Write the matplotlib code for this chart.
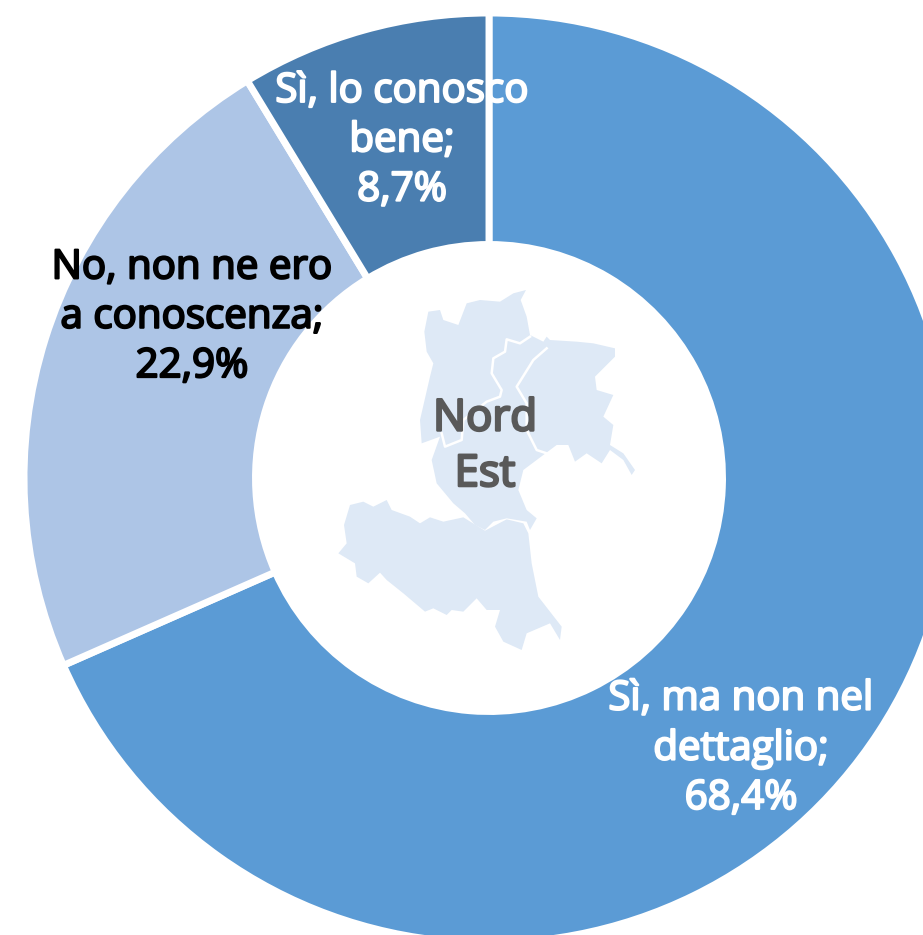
import matplotlib
matplotlib.use("Agg")
import matplotlib.pyplot as plt
from matplotlib.patches import Polygon
import matplotlib.patheffects as pe

labels = ["Sì, ma non nel\ndettaglio;\n68,4%", "No, non ne ero\na conoscenza;\n22,9%", "Sì, lo conosco\nbene;\n8,7%"]
values = [68.4, 22.9, 8.7]
colors = ["#5B9BD5", "#ADC5E6", "#4A7EB0"]
center_label = "Nord\nEst"
W, H = 923, 935
plt.rcParams['font.family'] = ['Open Sans', 'DejaVu Sans']

fig = plt.figure(figsize=(W/100, H/100), dpi=100)
ax = fig.add_axes([0, 0, 1, 1])
cx, cy, R = 489, 478, 465
inner = 233.5
wedges, _ = ax.pie(values, colors=colors, startangle=-90, counterclock=True,
                   center=(cx, cy), radius=R, frame=True,
                   wedgeprops=dict(width=R-inner, edgecolor='white', linewidth=5))
ax.set_xlim(0, W)
ax.set_ylim(H, 0)
ax.set_aspect('equal')
ax.axis('off')

# decorative map silhouette behind the centre label (traced on a 3x crop at 330,280)
north = [(295,95),(330,90),(340,120),(385,135),(410,70),(450,60),(510,65),(550,40),(588,30),(572,60),(590,110),(600,165),
         (640,185),(650,170),(660,180),(740,185),(790,190),(855,205),(855,230),(795,290),(800,330),(850,345),(820,410),
         (850,435),(840,495),(880,520),(915,570),(905,585),(880,540),(840,510),(815,550),(770,520),(735,545),(715,495),
         (680,495),(620,540),(580,570),(565,630),(590,690),(620,715),(600,750),(590,725),(530,715),(490,725),(465,750),
         (435,735),(405,700),(370,670),(320,610),(305,540),(330,470),(275,490),(270,420),(300,290),(310,250),(290,215),(283,155)]
south = [(60,675),(100,665),(130,680),(170,660),(185,690),(240,710),(270,730),(300,712),(340,725),(400,712),(465,752),
         (530,718),(580,730),(595,760),(605,850),(625,950),(695,1040),(690,1080),(660,1030),(590,1060),(575,1110),(520,1085),
         (495,1040),(510,990),(470,990),(440,955),(400,995),(365,990),(350,1005),(310,985),(285,995),(220,940),(170,900),
         (150,878),(115,910),(80,890),(75,850),(25,820),(50,790),(42,735)]
border_a = [(600,170),(570,190),(530,178),(525,215),(490,235),(485,280),(515,330),(510,350),(470,365),(400,420),(395,480),(345,500),(335,460)]
border_b = [(650,205),(610,240),(560,320),(590,370),(590,450),(620,510),(650,520)]
def tr(pts):
    return [(x/3+330, y/3+280) for x, y in pts]
for poly in (north, south):
    ax.add_patch(Polygon(tr(poly), closed=True, facecolor="#DEE9F6", edgecolor='none', zorder=3))
for b in (border_a, border_b):
    xs, ys = zip(*tr(b))
    ax.plot(xs, ys, color='white', lw=1.8, zorder=3)

fs = 29
ls = 1.29
def heavy(c, w=1.5):
    return [pe.withStroke(linewidth=w, foreground=c)]
ax.text(741, 749, labels[0], color='white', fontsize=fs, ha='center', va='center', linespacing=ls, zorder=5, path_effects=heavy('white'))
ax.text(192, 317.5, labels[1], color='black', fontsize=fs, ha='center', va='center', linespacing=ls, zorder=5, path_effects=heavy('black'))
ax.text(402, 141, labels[2], color='white', fontsize=fs, ha='center', va='center', linespacing=ls, zorder=5, path_effects=heavy('white'))
ax.text(485, 447, center_label, color='#595959', fontsize=31.5, ha='center', va='center', linespacing=1.33, zorder=5, path_effects=heavy('#595959', 1.8))
fig.savefig('out.png', dpi=100)
